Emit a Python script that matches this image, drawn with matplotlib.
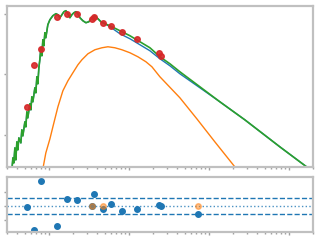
import numpy as np
import matplotlib
matplotlib.use("Agg")
import matplotlib.pyplot as plt

# log10 wavelength / log10 flux
log_lam_total = [-0.463, -0.45, -0.438, -0.425, -0.413, -0.4, -0.388, -0.375, -0.35, -0.338, -0.325, -0.3,
                 -0.288, -0.275, -0.263, -0.238, -0.225, -0.213, -0.2, -0.175, -0.163, -0.15, -0.138, -0.125,
                 -0.113, -0.1, -0.088, -0.075, -0.063, -0.05, -0.038, -0.013, 0.013, 0.05, 0.088, 0.113, 0.138,
                 0.163, 0.188, 0.213, 0.238, 0.263, 0.288, 0.313, 0.338, 0.363, 0.388, 0.425, 0.463, 0.5, 0.538,
                 0.575, 0.613, 0.65, 0.7, 0.763, 0.888, 1.013, 1.138, 1.263, 1.388, 1.513, 1.638, 1.888, 2.138,
                 2.45, 2.888, 3.3]
log_flux_total = [-1.2, -0.768, -0.934, -0.437, -0.834, -0.238, -0.503, -0.106, -0.272, 0.159, -0.04, 0.424,
                  0.258, 0.755, 0.556, 1.02, 0.821, 1.252, 1.086, 1.55, 1.384, 1.914, 1.682, 2.212,
                  2.477, 2.874, 2.609, 3.139, 2.94, 3.371, 3.205, 3.636, 3.801, 3.934, 4.0, 3.967, 3.868,
                  3.967, 4.066, 4.099, 4.0, 3.868, 3.967, 4.033, 4.066, 4.0, 3.868, 3.768, 3.702, 3.735, 3.868,
                  3.934, 3.834, 3.735, 3.669, 3.603, 3.437, 3.272, 3.073, 2.874, 2.576, 2.344, 2.079, 1.583, 1.086,
                  0.49, -0.404, -1.219]

# stellar part: same as total shortward of log_lam 0.7
log_lam_stellar_tail = [0.763, 0.888, 1.013, 1.138, 1.263, 1.388, 1.513, 1.638, 1.888, 2.138, 2.45, 2.888, 3.3]
log_flux_stellar_tail = [3.57, 3.338, 3.172, 2.974, 2.775, 2.51, 2.278, 2.013, 1.55, 1.086, 0.49, -0.404, -1.219]

log_lam_dust = [-0.08, -0.038, 0.013, 0.05, 0.113, 0.175, 0.238, 0.3, 0.363, 0.413, 0.488, 0.575, 0.663,
                0.738, 0.825, 0.913, 1.013, 1.113, 1.213, 1.288, 1.388, 1.638, 1.85, 2.075, 2.325, 2.388]
log_flux_dust = [-1.2, -0.603, -0.139, 0.258, 0.921, 1.45, 1.781, 2.046, 2.311, 2.477, 2.675, 2.808, 2.874,
                 2.907, 2.874, 2.808, 2.709, 2.576, 2.411, 2.245, 1.914, 1.219, 0.523, -0.238, -1.066, -1.265]

log_lam_obs = [-0.275, -0.188, -0.094, 0.1, 0.225, 0.35, 0.538, 0.563, 0.675, 0.775, 0.913, 1.1, 1.375, 1.4]
log_flux_obs = [0.92, 2.31, 2.84, 3.9, 4.0, 4.0, 3.83, 3.9, 3.70, 3.60, 3.40, 3.17, 2.71, 2.61]

log_lam_res = [-0.275, -0.188, -0.094, 0.1, 0.225, 0.35, 0.538, 0.563, 0.675, 0.775, 0.913, 1.1, 1.375, 1.4, 1.863]
residuals = [-0.05, -1.7, 1.8, -1.4, 0.52, 0.45, 0.0, 0.88, -0.19, 0.16, -0.34, -0.19, 0.09, 0.02, -0.55]
log_lam_lim = [0.538, 0.675, 1.863]
res_lim = [0.0, 0.0, 0.0]

n_shared = log_lam_total.index(0.7) + 1
lam_total = 10 ** np.array(log_lam_total)
flux_total = 10 ** np.array(log_flux_total)
lam_stellar = 10 ** np.array(log_lam_total[:n_shared] + log_lam_stellar_tail)
flux_stellar = 10 ** np.array(log_flux_total[:n_shared] + log_flux_stellar_tail)

fig = plt.figure(figsize=(3.2, 2.4), dpi=100)
ax = fig.add_axes([0.022, 0.304, 0.956, 0.671])
axr = fig.add_axes([0.022, 0.033, 0.956, 0.23])

ax.plot(lam_stellar, flux_stellar, color="tab:blue", lw=1)
ax.plot(10 ** np.array(log_lam_dust), 10 ** np.array(log_flux_dust), color="tab:orange", lw=1)
ax.plot(lam_total, flux_total, color="tab:green", lw=1.2)
ax.plot(10 ** np.array(log_lam_obs), 10 ** np.array(log_flux_obs), "o", color="tab:red", ms=4, alpha=0.9)
ax.set_xscale("log")
ax.set_yscale("log")
ax.set_xlim(0.3, 2000)
ax.set_ylim(0.085, 18000)

axr.axhline(0.6, color="tab:blue", ls="--", lw=1)
axr.axhline(-0.6, color="tab:blue", ls="--", lw=1)
axr.axhline(0.0, color="tab:blue", ls=":", lw=1, alpha=0.8)
axr.plot(10 ** np.array(log_lam_res), residuals, "o", color="tab:blue", ms=4)
axr.plot(10 ** np.array(log_lam_lim), res_lim, "o", color="tab:orange", ms=4, alpha=0.5)
axr.set_xscale("log")
axr.set_xlim(0.3, 2000)
axr.set_ylim(-1.85, 2.07)
axr.set_yticks([-1, 0, 1])

for a in (ax, axr):
    for s in a.spines.values():
        s.set_color("#c0c0c0")
        s.set_linewidth(1.6)
    a.tick_params(which="both", colors="#a0a0a0", labelleft=False, labelbottom=False,
                  length=2, width=1)
    a.tick_params(which="minor", length=1.5)
    a.yaxis.set_minor_locator(matplotlib.ticker.NullLocator())

fig.savefig("out.png", dpi=100)
